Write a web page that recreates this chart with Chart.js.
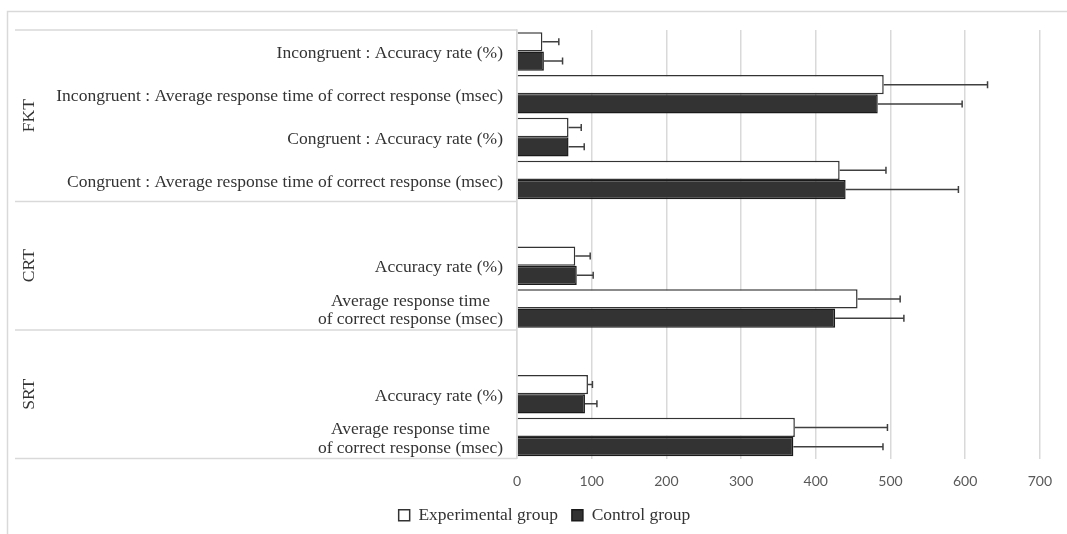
<!DOCTYPE html>
<html><head><meta charset="utf-8">
<script src="https://cdn.jsdelivr.net/npm/chart.js@4.4.1/dist/chart.umd.min.js"></script>
<style>html,body{margin:0;padding:0;background:#fff;} canvas{display:block;}</style>
</head><body>
<canvas id="c" width="1067" height="534"></canvas>
<script>
const categories = [
  'Incongruent : Accuracy rate (%)',
  'Incongruent : Average response time of correct response (msec)',
  'Congruent : Accuracy rate (%)',
  'Congruent : Average response time of correct response (msec)',
  '',
  'Accuracy rate (%)',
  ['Average response time', 'of correct response (msec)'],
  '',
  'Accuracy rate (%)',
  ['Average response time', 'of correct response (msec)']
];
const taskGroups = ['FKT','FKT','FKT','FKT','CRT','CRT','CRT','SRT','SRT','SRT'];
const experimental   = [34, 491, 69, 432, null, 78, 456, null, 95, 372];
const experimentalSD = [22, 139, 17, 62,  null, 20, 57,  null, 6,  124];
const control        = [36, 483, 69, 440, null, 80, 426, null, 91, 370];
const controlSD      = [25, 113, 21, 151, null, 22, 92,  null, 16, 120];
const xTicks = [0, 100, 200, 300, 400, 500, 600, 700];

const SERIF = '"Liberation Serif", "Times New Roman", serif';
const LABEL_SIZE = 17.5;
const LABEL_PAD = 14;
const errorSets = [experimentalSD, controlSD];

// width of the widest line among the two-line labels (used to centre those lines)
const mctx = document.createElement('canvas').getContext('2d');
mctx.font = LABEL_SIZE + 'px ' + SERIF;
const widestMulti = Math.max(...categories.filter(Array.isArray).flat().map(t => mctx.measureText(t).width));

const decor = {
  id: 'decor',
  beforeDraw(chart) {
    const c = chart.ctx;
    c.save();
    c.fillStyle = '#fff';
    c.fillRect(0, 0, chart.width, chart.height);
    c.strokeStyle = '#d9d9d9';
    c.lineWidth = 1.5;
    c.strokeRect(7.5, 11.5, chart.width + 20, chart.height + 20);
    c.restore();
  },
  afterDatasetsDraw(chart) {
    const c = chart.ctx, xs = chart.scales.x;
    c.save();
    c.strokeStyle = '#404040';
    c.lineWidth = 1.5;
    chart.data.datasets.forEach((ds, di) => {
      const meta = chart.getDatasetMeta(di);
      meta.data.forEach((bar, j) => {
        const v = ds.data[j], e = errorSets[di][j];
        if (v == null || e == null) return;
        const xe = xs.getPixelForValue(v + e);
        c.beginPath();
        c.moveTo(bar.x, bar.y); c.lineTo(xe, bar.y);
        c.moveTo(xe, bar.y - 3.5); c.lineTo(xe, bar.y + 3.5);
        c.stroke();
      });
    });
    c.restore();
  },
  afterDraw(chart) {
    const c = chart.ctx, ys = chart.scales.y, area = chart.chartArea;
    const half = (ys.getPixelForValue(1) - ys.getPixelForValue(0)) / 2;
    const bounds = [0];
    for (let i = 1; i < taskGroups.length; i++) if (taskGroups[i] !== taskGroups[i - 1]) bounds.push(i);
    bounds.push(taskGroups.length);
    c.save();
    c.strokeStyle = '#d9d9d9';
    c.lineWidth = 1.5;
    bounds.forEach(b => {
      const y = ys.getPixelForValue(b) - half;
      c.beginPath(); c.moveTo(15, y); c.lineTo(area.left, y); c.stroke();
    });
    c.fillStyle = '#333333';
    c.font = LABEL_SIZE + 'px ' + SERIF;
    c.textAlign = 'center';
    c.textBaseline = 'middle';
    for (let k = 0; k < bounds.length - 1; k++) {
      const y0 = ys.getPixelForValue(bounds[k]) - half;
      const y1 = ys.getPixelForValue(bounds[k + 1]) - half;
      c.save();
      c.translate(29, (y0 + y1) / 2);
      c.rotate(-Math.PI / 2);
      c.fillText(taskGroups[bounds[k]], 0, 0);
      c.restore();
    }
    c.restore();
  }
};

new Chart(document.getElementById('c'), {
  type: 'bar',
  data: {
    labels: categories,
    datasets: [
      { label: 'Experimental group', data: experimental, backgroundColor: '#ffffff', borderColor: '#333333', borderWidth: 1.5 },
      { label: 'Control group', data: control, backgroundColor: '#333333', borderColor: '#1a1a1a', borderWidth: 1.5 }
    ]
  },
  options: {
    indexAxis: 'y',
    responsive: false,
    animation: false,
    layout: { padding: { left: 43, right: 21, top: 30, bottom: 0 } },
    datasets: { bar: { categoryPercentage: 0.9, barPercentage: 1.0 } },
    plugins: {
      legend: {
        position: 'bottom',
        labels: { boxWidth: 11, boxHeight: 11, padding: 14, color: '#333333', font: { family: SERIF, size: LABEL_SIZE } }
      },
      tooltip: { enabled: false }
    },
    scales: {
      x: {
        min: 0, max: 700,
        afterBuildTicks: s => { s.ticks = xTicks.map(v => ({ value: v })); },
        grid: { color: '#d9d9d9', lineWidth: 1.5, drawTicks: false },
        border: { display: false },
        ticks: { padding: 15, color: '#595959', font: { family: 'Lato', size: 14 } },
        afterFit: s => { s.height = 34; }
      },
      y: {
        weight: 1,
        grid: { display: false, drawTicks: false },
        border: { display: true, color: '#d9d9d9', width: 1.5 },
        ticks: {
          autoSkip: false, padding: LABEL_PAD, labelOffset: 2, color: '#333333',
          font: { family: SERIF, size: LABEL_SIZE },
          callback: (v, i) => Array.isArray(categories[i]) ? '' : categories[i]
        },
        afterFit: s => { s.width = 474; }
      },
      y2: {
        type: 'category',
        position: 'left',
        weight: 0,
        offset: true,
        grid: { display: false, drawTicks: false },
        border: { display: false },
        ticks: {
          autoSkip: false, mirror: true, crossAlign: 'center', labelOffset: 2,
          padding: -(LABEL_PAD + widestMulti), color: '#333333',
          font: { family: SERIF, size: LABEL_SIZE, lineHeight: 1.05 },
          callback: (v, i) => Array.isArray(categories[i]) ? categories[i] : ''
        },
        afterFit: s => { s.width = 0; }
      }
    }
  },
  plugins: [decor]
});
</script>
</body></html>
